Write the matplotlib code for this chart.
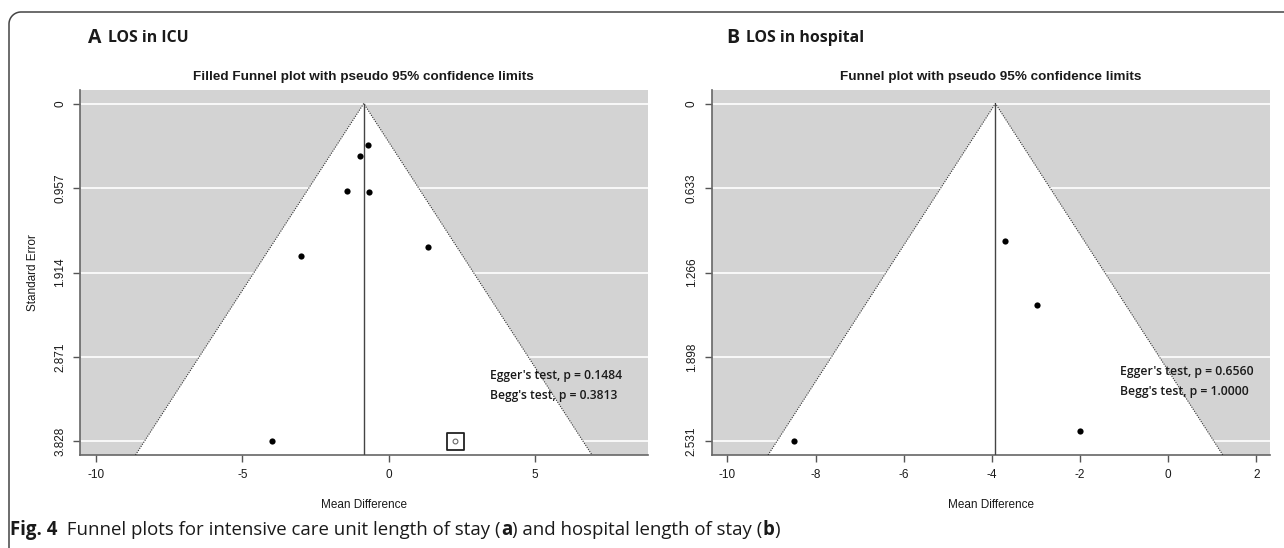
import matplotlib
matplotlib.use("Agg")
import matplotlib.pyplot as plt
from matplotlib.patches import Polygon
from matplotlib.lines import Line2D
import numpy as np

# ---------------- data ----------------
A_md = [-0.70, -0.99, -1.43, -0.66, -2.99, 1.34, -4.00]
A_se = [0.47, 0.59, 0.99, 1.00, 1.73, 1.62, 3.828]
A_fill_md = [2.28]
A_fill_se = [3.828]
A_center = -0.85
A_yticks = [0, 0.957, 1.914, 2.871, 3.828]
A_xticks = [-10, -5, 0, 5]
A_title = "Filled Funnel plot with pseudo 95% confidence limits"
A_tests = ["Egger's test, p = 0.1484", "Begg's test, p = 0.3813"]

B_md = [-3.71, -2.97, -2.00, -8.50]
B_se = [1.026, 1.506, 2.45, 2.531]
B_center = -3.92
B_yticks = [0, 0.633, 1.266, 1.898, 2.531]
B_xticks = [-10, -8, -6, -4, -2, 0, 2]
B_title = "Funnel plot with pseudo 95% confidence limits"
B_tests = ["Egger's test, p = 0.6560", "Begg's test, p = 1.0000"]

W, H = 1284, 548
fig = plt.figure(figsize=(W / 100, H / 100), dpi=100)

LABEL_FONT = ["Liberation Sans", "DejaVu Sans"]
NOTE_FONT = ["Open Sans", "Noto Sans", "DejaVu Sans"]
GRAY = "#d3d3d3"
TXT = "#1a1a1a"


def px(x0, y0, x1, y1):
    return [x0 / W, 1 - y1 / H, (x1 - x0) / W, (y1 - y0) / H]


def funnel(ax, md, se, center, yticks, xticks, xlim, title, ylabel=None,
           fill_md=None, fill_se=None):
    ymax = yticks[-1]
    ylim = (ymax * 1.04, -ymax * 0.04)
    ax.set_facecolor(GRAY)
    ax.set_xlim(*xlim)
    ax.set_ylim(*ylim)
    for t in yticks:
        ax.axhline(t, color="white", lw=1.2, zorder=1)
    yb = ylim[0]
    poly = Polygon([[center, 0], [center - 1.96 * yb, yb], [center + 1.96 * yb, yb]],
                   closed=True, facecolor="white", edgecolor="none", zorder=2)
    ax.add_patch(poly)
    ax.plot([center - 1.96 * yb, center, center + 1.96 * yb], [yb, 0, yb],
            color="#333333", lw=0.8, ls=(0, (1, 1.2)), zorder=3)
    ax.plot([center, center], [0, yb], color="#444444", lw=1.0, zorder=3)
    ax.scatter(md, se, s=20, color="black", zorder=5, linewidths=0)
    if fill_md is not None:
        ax.scatter(fill_md, fill_se, s=12, facecolor="white", edgecolor="#666666",
                   linewidths=0.8, zorder=5)
        ax.scatter(fill_md, fill_se, s=150, marker="s", facecolor="none",
                   edgecolor="#222222", linewidths=1.3, zorder=5)
    ax.set_yticks(yticks)
    ax.set_yticklabels([("%g" % t) if t == 0 else ("%.3f" % t) for t in yticks],
                       rotation=90, va="center", fontsize=8.5, family=LABEL_FONT,
                       color=TXT)
    ax.set_xticks(xticks)
    ax.set_xticklabels([str(t) for t in xticks], fontsize=8.5, family=LABEL_FONT,
                       color=TXT)
    ax.tick_params(axis="both", length=5, width=1.0, color="#555555", pad=5)
    for s in ["top", "right"]:
        ax.spines[s].set_visible(False)
    for s in ["left", "bottom"]:
        ax.spines[s].set_color("#666666")
        ax.spines[s].set_linewidth(1.2)
    ax.set_xlabel("Mean Difference", fontsize=8.5, family=LABEL_FONT, color=TXT,
                  labelpad=13)
    if ylabel:
        ax.set_ylabel(ylabel, fontsize=8.5, family=LABEL_FONT, color=TXT, labelpad=11)
    ax.set_title(title, fontsize=9.7, family=LABEL_FONT, weight="bold", color=TXT,
                 pad=7)


axA = fig.add_axes(px(80, 90, 647.5, 455))
funnel(axA, A_md, A_se, A_center, A_yticks, A_xticks, (-10.55, 8.85), A_title,
       ylabel="Standard Error", fill_md=A_fill_md, fill_se=A_fill_se)

axB = fig.add_axes(px(711.6, 90, 1270, 455))
funnel(axB, B_md, B_se, B_center, B_yticks, B_xticks, (-10.36, 2.31), B_title)

fig.canvas.draw()
renderer = fig.canvas.get_renderer()


def seq_text(x, y, pieces, size, target_width=None, va="baseline"):
    """Draw text pieces one after another; optionally scale to a pixel width."""
    if target_width is not None:
        tot = 0
        for txt, kw in pieces:
            kw = dict(kw)
            fs = kw.pop("fontsize", size)
            t = fig.text(0, 0, txt, fontsize=fs, **kw)
            tot += t.get_window_extent(renderer).width
            t.remove()
        scale = target_width / tot
    else:
        scale = 1.0
    cur = x
    for txt, kw in pieces:
        kw = dict(kw)
        fs = kw.pop("fontsize", size) * scale
        t = fig.text(cur / W, 1 - y / H, txt, fontsize=fs, va=va,
                     ha="left", color=TXT, **kw)
        cur += t.get_window_extent(renderer).width
    return cur


BOLD = dict(family=NOTE_FONT, weight="bold")
REG = dict(family=NOTE_FONT)

# panel headings
seq_text(88, 43, [("A", dict(BOLD, fontsize=14))], 14)
seq_text(108, 42, [("LOS in ICU", BOLD)], 10, target_width=81)
seq_text(726, 43, [("B", dict(BOLD, fontsize=14))], 14)
seq_text(746, 42, [("LOS in hospital", BOLD)], 10, target_width=118)

# test annotations
SEMI = dict(family=NOTE_FONT, weight="semibold")
seq_text(490, 376, [(A_tests[0], SEMI)], 8, target_width=132, va="center")
seq_text(490, 395, [(A_tests[1], SEMI)], 8, target_width=128, va="center")
seq_text(1120, 372, [(B_tests[0], SEMI)], 8, target_width=133, va="center")
seq_text(1120, 392, [(B_tests[1], SEMI)], 8, target_width=129, va="center")

# caption
cap = [("Fig. 4", BOLD),
       ("  Funnel plots for intensive care unit length of stay (", REG),
       ("a", BOLD),
       (") and hospital length of stay (", REG),
       ("b", BOLD),
       (")", REG)]
seq_text(10, 535, cap, 10.5, target_width=775)

# outer frame with rounded top-left corner
r = 12
x0, y0 = 9, 12
theta = np.linspace(np.pi, np.pi / 2, 20)
cx, cy = x0 + r, y0 + r
arc_x = cx + r * np.cos(theta)
arc_y = cy - r * np.sin(theta)
xs = np.concatenate([[x0], arc_x, [W]])
ys = np.concatenate([[H], arc_y, [y0]])
fig.add_artist(Line2D(xs / W, 1 - ys / H, color="#444444", lw=1.1,
                      transform=fig.transFigure))

fig.savefig("out.png", dpi=100)
